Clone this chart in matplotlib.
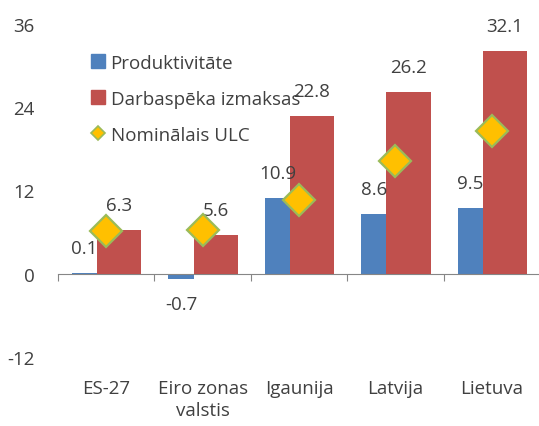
import matplotlib.pyplot as plt
from matplotlib.lines import Line2D
import numpy as np

categories = ["ES-27", "Eiro zonas\nvalstis", "Igaunija", "Latvija", "Lietuva"]
productivity = [0.1, -0.7, 10.9, 8.6, 9.5]
labour_cost = [6.3, 5.6, 22.8, 26.2, 32.1]
nominal_ulc = [6.2, 6.3, 10.7, 16.2, 20.6]
yticks = [-12, 0, 12, 24, 36]

BLUE = "#4F81BD"
RED = "#C0504D"
GOLD = "#FFC000"
GREEN = "#9BBB59"
TEXT = "#404040"
FS = 13.5

plt.rcParams["font.family"] = ["Open Sans", "DejaVu Sans"]
plt.rcParams["font.size"] = FS
plt.rcParams["axes.unicode_minus"] = False

fig = plt.figure(figsize=(5.39, 4.27), dpi=100)
ax = fig.add_axes([58 / 539, (427 - 358) / 427, 482 / 539, 333 / 427])

x = np.arange(len(categories))
ax.bar(x - 0.354, productivity, width=0.26, align="edge", color=BLUE, zorder=2)
ax.bar(x - 0.094, labour_cost, width=0.459, align="edge", color=RED, zorder=3)
ax.plot(x, nominal_ulc, linestyle="none", marker="D", ms=16, mfc=GOLD,
        mec=GREEN, mew=1.6, zorder=4)

# data labels
for xi, v in zip(x - 0.224, productivity):
    off = 18 if v >= 0 else -18
    ax.annotate(f"{v:.1f}", (xi, v), xytext=(0, off), textcoords="offset points",
                ha="center", va="center", color=TEXT, fontsize=FS)
for xi, v in zip(x + 0.135, labour_cost):
    ax.annotate(f"{v:.1f}", (xi, v), xytext=(0, 18), textcoords="offset points",
                ha="center", va="center", color=TEXT, fontsize=FS)

ax.set_xlim(-0.5, len(categories) - 0.5)
ax.set_ylim(-12, 36)
ax.set_yticks(yticks)
ax.tick_params(axis="y", length=0, pad=17, labelcolor=TEXT, labelsize=FS)

for s in ["left", "right", "top"]:
    ax.spines[s].set_visible(False)
ax.spines["bottom"].set_position(("data", 0))
ax.spines["bottom"].set_color("#868686")
ax.set_xticks(np.arange(len(categories) + 1) - 0.5)
ax.set_xticklabels([])
ax.tick_params(axis="x", length=5, direction="out", color="#868686")

for i, c in enumerate(categories):
    ax.annotate(c, (i, -12), xytext=(0, -16), textcoords="offset points",
                ha="center", va="top", color=TEXT, fontsize=FS, linespacing=1.25,
                annotation_clip=False)

handles = [
    Line2D([], [], linestyle="none", marker="s", ms=10, color=BLUE),
    Line2D([], [], linestyle="none", marker="s", ms=10, color=RED),
    Line2D([], [], linestyle="none", marker="D", ms=7, mfc=GOLD, mec=GREEN, mew=1.2),
]
leg = fig.legend(handles, ["Produktivitāte", "Darbaspēka izmaksas", "Nominālais ULC"],
                 loc="upper left", bbox_to_anchor=(90 / 539, 1 - 55 / 427),
                 frameon=False, handlelength=0.8, handletextpad=0.3,
                 labelspacing=0.95, borderaxespad=0, borderpad=0, fontsize=FS)
for t in leg.get_texts():
    t.set_color(TEXT)

fig.savefig("out.png", dpi=100)
